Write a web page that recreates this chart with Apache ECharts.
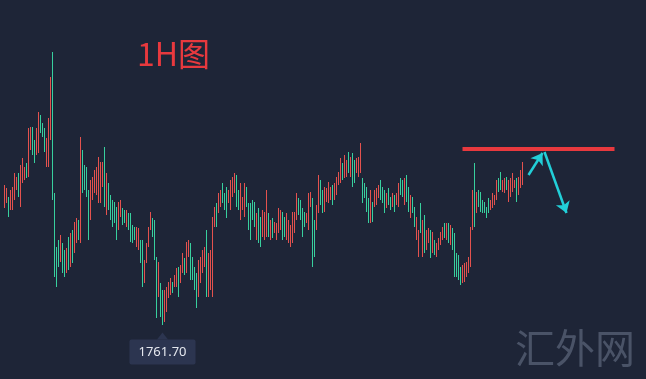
<!DOCTYPE html>
<html>
<head>
<meta charset="utf-8">
<script src="https://cdn.jsdelivr.net/npm/echarts@6/dist/echarts.min.js"></script>
<style>
html,body{margin:0;padding:0;background:#1e2537;}
#chart{width:646px;height:379px;}
</style>
</head>
<body>
<div id="chart"></div>
<script>
// 1H candles (OHLC)
const opens = [1785.5,1786.5,1786.9,1785.1,1785.1,1787.1,1789.1,1791.7,1785.7,1790.5,
1791.1,1793.7,1791.7,1797.1,1800.9,1798.3,1796.1,1796.5,1803.3,1801.7,
1800.7,1793.7,1793.7,1799.1,1810.9,1787.7,1776.9,1778.3,1774.7,1777.7,
1776.3,1772.5,1778.9,1773.7,1780.3,1776.5,1778.5,1782.3,1778.5,1796.3,
1793.3,1792.9,1788.3,1783.1,1787.1,1788.5,1788.1,1786.5,1786.5,1789.7,
1796.9,1784.1,1789.7,1787.3,1786.3,1785.9,1784.9,1781.1,1783.7,1784.7,
1784.3,1781.7,1783.7,1783.7,1781.3,1780.9,1777.7,1777.1,1778.3,1778.3,
1770.5,1774.5,1777.7,1781.1,1782.7,1782.3,1774.9,1767.7,1769.7,1768.3,
1762.7,1764.7,1767.5,1768.1,1770.1,1769.7,1769.7,1772.9,1770.5,1772.5,
1774.7,1772.5,1775.7,1777.7,1774.9,1772.9,1771.7,1767.7,1770.5,1772.5,
1773.7,1780.3,1767.7,1769.1,1767.7,1781.7,1785.7,1784.5,1785.7,1789.7,
1787.7,1788.9,1786.5,1785.1,1787.7,1788.5,1791.3,1788.3,1783.1,1785.1,
1783.7,1788.9,1785.7,1785.7,1786.3,1785.9,1779.1,1784.7,1782.9,1779.7,
1779.1,1779.7,1783.7,1779.1,1782.7,1780.3,1779.1,1780.5,1781.1,1783.9,
1782.9,1779.1,1778.5,1777.7,1778.5,1780.5,1783.1,1786.7,1786.3,1784.7,
1783.9,1782.3,1781.1,1785.7,1786.7,1782.3,1781.1,1784.5,1790.3,1788.3,
1784.7,1786.7,1786.5,1787.1,1789.3,1787.1,1788.1,1790.1,1790.5,1793.7,
1791.5,1791.7,1795.9,1791.7,1795.7,1794.3,1792.5,1791.7,1792.5,1790.7,
1789.7,1788.9,1786.7,1782.5,1785.9,1785.7,1786.1,1787.5,1790.3,1788.9,
1788.3,1785.5,1788.7,1786.9,1785.7,1787.3,1786.1,1785.7,1790.7,1790.3,
1786.1,1791.3,1788.9,1783.5,1786.9,1784.9,1779.1,1775.7,1785.7,1775.7,
1783.3,1777.1,1778.5,1780.3,1776.5,1778.3,1775.7,1777.1,1778.1,1779.1,
1781.7,1779.1,1781.7,1778.1,1780.7,1779.7,1775.7,1775.3,1772.9,1770.5,
1770.7,1771.7,1772.5,1773.7,1781.1,1789.0,1784.5,1788.3,1787.9,1786.3,
1786.1,1785.1,1786.7,1784.9,1785.5,1785.9,1787.1,1790.7,1791.9,1788.7,
1788.5,1790.9,1786.7,1787.7,1788.7,1789.3,1790.7,1788.1,1789.5,1790.1];

const closes = [1789.3,1788.7,1783.7,1788.3,1788.9,1791.7,1790.9,1787.7,1793.3,1794.7,
1792.9,1791.5,1800.7,1800.9,1796.1,1794.5,1800.7,1803.9,1800.5,1799.7,
1796.7,1798.7,1802.7,1810.9,1788.1,1771.7,1769.7,1773.7,1779.3,1772.5,
1771.7,1776.7,1773.1,1779.7,1774.5,1781.9,1782.7,1779.1,1798.9,1788.5,
1789.1,1787.7,1779.1,1790.3,1790.9,1792.3,1792.9,1794.9,1793.9,1793.9,
1785.7,1791.7,1785.1,1783.1,1781.7,1782.5,1779.1,1785.9,1786.3,1782.1,
1782.5,1784.3,1781.1,1778.7,1778.5,1779.1,1780.9,1780.7,1774.5,1769.7,
1774.3,1777.7,1780.9,1783.9,1779.7,1775.1,1763.5,1773.9,1763.7,1762.1,
1768.3,1768.9,1769.9,1770.7,1768.3,1771.3,1772.7,1767.7,1773.3,1775.7,
1772.1,1777.9,1778.3,1771.1,1771.1,1769.1,1765.5,1774.3,1774.9,1776.3,
1776.9,1767.7,1775.7,1776.3,1782.9,1784.9,1781.7,1787.7,1788.3,1786.5,
1785.1,1783.5,1788.3,1790.3,1790.9,1791.7,1785.7,1785.1,1789.7,1786.9,
1789.7,1785.7,1781.1,1779.1,1783.1,1781.7,1783.7,1778.5,1777.7,1784.3,
1783.9,1788.3,1779.7,1782.3,1779.5,1782.1,1781.7,1784.7,1784.3,1779.1,
1779.7,1783.7,1782.3,1781.3,1783.9,1783.9,1787.7,1784.1,1783.1,1779.7,
1781.7,1783.9,1787.7,1787.9,1773.7,1775.7,1785.3,1791.3,1786.1,1784.5,
1788.9,1788.7,1789.9,1788.9,1786.1,1789.7,1790.9,1791.9,1794.7,1791.1,
1795.3,1794.3,1792.5,1794.9,1789.7,1790.5,1794.7,1794.9,1797.7,1786.5,
1787.5,1784.7,1782.5,1788.3,1782.7,1788.3,1788.7,1789.3,1787.1,1786.5,
1784.5,1787.7,1786.1,1785.1,1787.7,1784.7,1787.7,1789.7,1788.1,1787.7,
1790.7,1786.7,1784.7,1787.3,1784.5,1781.7,1782.9,1780.3,1780.5,1782.3,
1776.5,1780.3,1780.7,1775.5,1779.9,1776.1,1777.7,1778.7,1779.9,1780.9,
1779.5,1781.7,1778.5,1781.3,1777.1,1771.7,1771.7,1771.1,1770.1,1773.3,
1773.7,1773.9,1774.9,1780.9,1788.3,1782.5,1787.9,1785.7,1784.7,1784.5,
1784.3,1783.3,1784.5,1786.5,1787.7,1787.5,1790.3,1788.7,1789.1,1790.3,
1790.7,1789.1,1790.3,1790.7,1791.7,1790.5,1786.7,1790.9,1792.3,1793.9];

const lows = [1785.1,1786.1,1783.3,1784.7,1784.7,1786.7,1788.7,1787.3,1785.3,1790.1,
1790.7,1791.1,1791.3,1796.7,1795.7,1794.1,1795.7,1796.1,1800.1,1799.3,
1796.3,1793.3,1793.3,1798.7,1786.7,1771.3,1769.3,1773.3,1774.3,1772.1,
1771.3,1772.1,1772.7,1773.3,1774.1,1776.1,1778.1,1778.7,1778.1,1788.1,
1788.7,1787.3,1778.7,1782.7,1786.7,1788.1,1787.7,1786.1,1786.1,1789.3,
1785.3,1783.7,1784.7,1782.7,1781.3,1782.1,1778.7,1780.7,1783.3,1781.7,
1782.1,1781.3,1780.7,1778.3,1778.1,1778.7,1777.3,1776.7,1774.1,1769.3,
1770.1,1774.1,1777.3,1780.7,1779.3,1774.7,1763.1,1767.3,1763.3,1761.7,
1762.3,1764.3,1767.1,1767.7,1768.1,1769.3,1769.3,1767.3,1770.1,1772.1,
1771.7,1772.1,1775.3,1770.7,1770.7,1768.7,1765.1,1767.3,1770.1,1772.1,
1773.3,1767.3,1767.3,1768.7,1767.3,1781.3,1781.3,1784.1,1785.3,1786.1,
1784.7,1783.1,1786.1,1784.7,1787.3,1788.1,1785.3,1784.7,1782.7,1784.7,
1783.3,1785.3,1780.7,1778.7,1782.7,1781.3,1778.7,1778.1,1777.3,1779.3,
1778.7,1779.3,1779.3,1778.7,1779.1,1780.1,1778.7,1780.1,1780.7,1778.7,
1779.3,1778.7,1778.1,1777.3,1778.1,1780.1,1782.7,1783.7,1782.7,1779.3,
1781.3,1782.1,1780.7,1785.3,1773.3,1775.3,1780.7,1784.1,1785.7,1784.1,
1784.3,1786.3,1786.1,1786.7,1785.7,1786.7,1787.7,1789.7,1790.1,1790.7,
1791.1,1791.3,1792.1,1791.3,1789.3,1790.1,1792.1,1791.3,1792.1,1786.1,
1787.1,1784.3,1782.1,1782.1,1782.3,1785.3,1785.7,1787.1,1786.7,1786.1,
1784.1,1785.1,1785.7,1784.7,1785.3,1784.3,1785.7,1785.3,1787.7,1787.3,
1785.7,1786.3,1784.3,1783.1,1784.1,1781.3,1778.7,1775.3,1780.1,1775.3,
1776.1,1776.7,1778.1,1775.1,1776.1,1775.7,1775.3,1776.7,1777.7,1778.7,
1779.1,1778.7,1778.1,1777.7,1776.7,1771.3,1771.3,1770.7,1769.7,1770.1,
1770.3,1771.3,1772.1,1773.3,1780.7,1781.3,1784.1,1785.3,1784.3,1784.1,
1784.1,1783.1,1784.1,1784.7,1785.1,1785.7,1786.7,1788.3,1788.7,1788.3,
1788.1,1788.7,1786.3,1787.3,1788.3,1789.1,1786.3,1787.7,1789.1,1789.7];

const highs = [1789.7,1789.1,1787.3,1788.7,1789.3,1792.1,1791.3,1792.1,1793.7,1795.1,
1793.3,1794.1,1801.1,1801.3,1801.3,1798.7,1801.1,1804.3,1803.7,1802.1,
1801.1,1799.1,1803.1,1811.3,1816.3,1788.1,1777.3,1778.7,1779.7,1778.1,
1776.7,1777.1,1779.3,1780.1,1780.7,1782.3,1783.1,1782.7,1799.3,1796.7,
1793.7,1793.3,1788.7,1790.7,1791.3,1792.7,1793.3,1795.3,1794.3,1794.3,
1797.3,1792.1,1790.1,1787.7,1786.7,1786.3,1785.3,1786.3,1786.7,1785.1,
1784.7,1784.7,1784.1,1784.1,1781.7,1781.3,1781.3,1781.1,1778.7,1778.7,
1774.7,1778.1,1781.3,1784.3,1783.1,1782.7,1775.3,1774.3,1770.1,1768.7,
1768.7,1769.3,1770.3,1771.1,1770.3,1771.7,1773.1,1773.3,1773.7,1776.1,
1775.1,1778.3,1778.7,1778.1,1775.3,1773.3,1772.1,1774.7,1775.3,1776.7,
1777.3,1780.7,1776.1,1776.7,1783.3,1785.3,1786.1,1788.1,1788.7,1790.1,
1788.1,1789.3,1788.7,1790.7,1791.3,1792.1,1791.7,1788.7,1790.1,1787.3,
1790.1,1789.3,1786.1,1786.1,1786.7,1786.3,1784.1,1785.1,1783.3,1784.7,
1784.3,1788.7,1784.1,1782.7,1783.1,1782.3,1782.1,1785.1,1784.7,1784.3,
1783.3,1784.1,1782.7,1781.7,1784.3,1784.3,1788.1,1787.1,1786.7,1785.1,
1784.3,1784.1,1788.1,1788.3,1787.1,1782.7,1785.7,1791.7,1790.7,1788.7,
1789.3,1789.1,1790.3,1789.3,1789.7,1790.1,1791.3,1792.3,1795.1,1794.1,
1795.7,1794.7,1796.3,1795.3,1796.1,1794.7,1795.1,1795.3,1798.1,1791.1,
1790.1,1789.3,1787.1,1788.7,1786.3,1788.7,1789.1,1789.7,1790.7,1789.3,
1788.7,1788.1,1789.1,1787.3,1788.1,1787.7,1788.1,1790.1,1791.1,1790.7,
1791.1,1791.7,1789.3,1787.7,1787.3,1785.3,1783.3,1780.7,1786.1,1782.7,
1783.7,1780.7,1781.1,1780.7,1780.3,1778.7,1778.1,1779.1,1780.3,1781.3,
1782.1,1782.1,1782.1,1781.7,1781.1,1780.1,1776.1,1775.7,1773.3,1773.7,
1774.1,1774.3,1775.3,1781.3,1788.7,1794.1,1788.3,1788.7,1788.3,1786.7,
1786.3,1785.3,1787.1,1786.7,1788.1,1787.7,1790.7,1791.1,1792.3,1790.7,
1791.1,1791.3,1790.7,1791.1,1792.1,1790.7,1791.1,1791.3,1792.7,1794.3];

// drawn annotations (price levels / slot indices)
const resistancePrice = 1796.9;
const resistanceFrom = 229, resistanceTo = 305;
const arrowUp = [[262, 1791.7], [269, 1796.1]];
const arrowDown = [[270, 1796.3], [281, 1784.1]];
const titleText = '1H图';
const watermarkText = '汇外网';
const slotCount = 320; // candles plus empty space on the right

const categories = [];
for (let i = 0; i < slotCount; i++) categories.push('k' + i);
const candles = opens.map((o, i) => [o, closes[i], lows[i], highs[i]]);

const chart = echarts.init(document.getElementById('chart'), null, {renderer: 'canvas'});
chart.setOption({
  backgroundColor: '#1e2537',
  animation: false,
  title: {
    text: titleText,
    left: 132, top: 33,
    textStyle: {color: '#e8393e', fontSize: 32, fontWeight: 'normal', fontFamily: '"Noto Sans CJK SC", "Noto Sans", sans-serif'}
  },
  grid: {left: 3.5, width: 640, top: 0, bottom: 0},
  xAxis: {type: 'category', data: categories, show: false, boundaryGap: true},
  yAxis: {type: 'value', show: false, min: 1750.9, max: 1826.7, scale: true, splitLine: {show: false}},
  graphic: [{
    type: 'text', left: 515, top: 328, silent: true,
    style: {text: watermarkText, fill: '#4a5367', font: '40px "Noto Sans CJK SC"'}
  }],
  series: [{
    type: 'candlestick',
    data: candles,
    large: true,
    largeThreshold: 1,
    barWidth: 1,
    itemStyle: {color: '#e4524e', color0: '#38d09e', borderColor: '#e4524e', borderColor0: '#38d09e', borderWidth: 1},
    markLine: {
      silent: true,
      animation: false,
      symbol: ['none', 'arrow'],
      symbolSize: 11,
      label: {show: false},
      emphasis: {disabled: true},
      data: [
        [{coord: [categories[resistanceFrom], resistancePrice], symbol: 'none', lineStyle: {color: '#e8393e', width: 4, type: 'solid'}},
         {coord: [categories[resistanceTo], resistancePrice], symbol: 'none'}],
        [{coord: [categories[arrowUp[0][0]], arrowUp[0][1]], lineStyle: {color: '#22cfd8', width: 2.5, type: 'solid'}},
         {coord: [categories[arrowUp[1][0]], arrowUp[1][1]]}],
        [{coord: [categories[arrowDown[0][0]], arrowDown[0][1]], lineStyle: {color: '#22cfd8', width: 2.5, type: 'solid'}},
         {coord: [categories[arrowDown[1][0]], arrowDown[1][1]]}]
      ]
    },
    markPoint: {
      silent: true,
      symbol: 'triangle',
      symbolSize: [11, 7],
      symbolOffset: [0, 11],
      itemStyle: {color: '#2c3550'},
      label: {
        show: true, position: 'bottom', distance: 0,
        formatter: p => Number(p.value).toFixed(2),
        color: '#e4e7ee', fontSize: 13, lineHeight: 14,
        fontFamily: '"Noto Sans", sans-serif',
        backgroundColor: '#2c3550', padding: [6, 9, 5, 9], borderRadius: 2
      },
      data: [{type: 'min', valueDim: 'lowest'}]
    }
  }]
});
</script>
</body>
</html>
